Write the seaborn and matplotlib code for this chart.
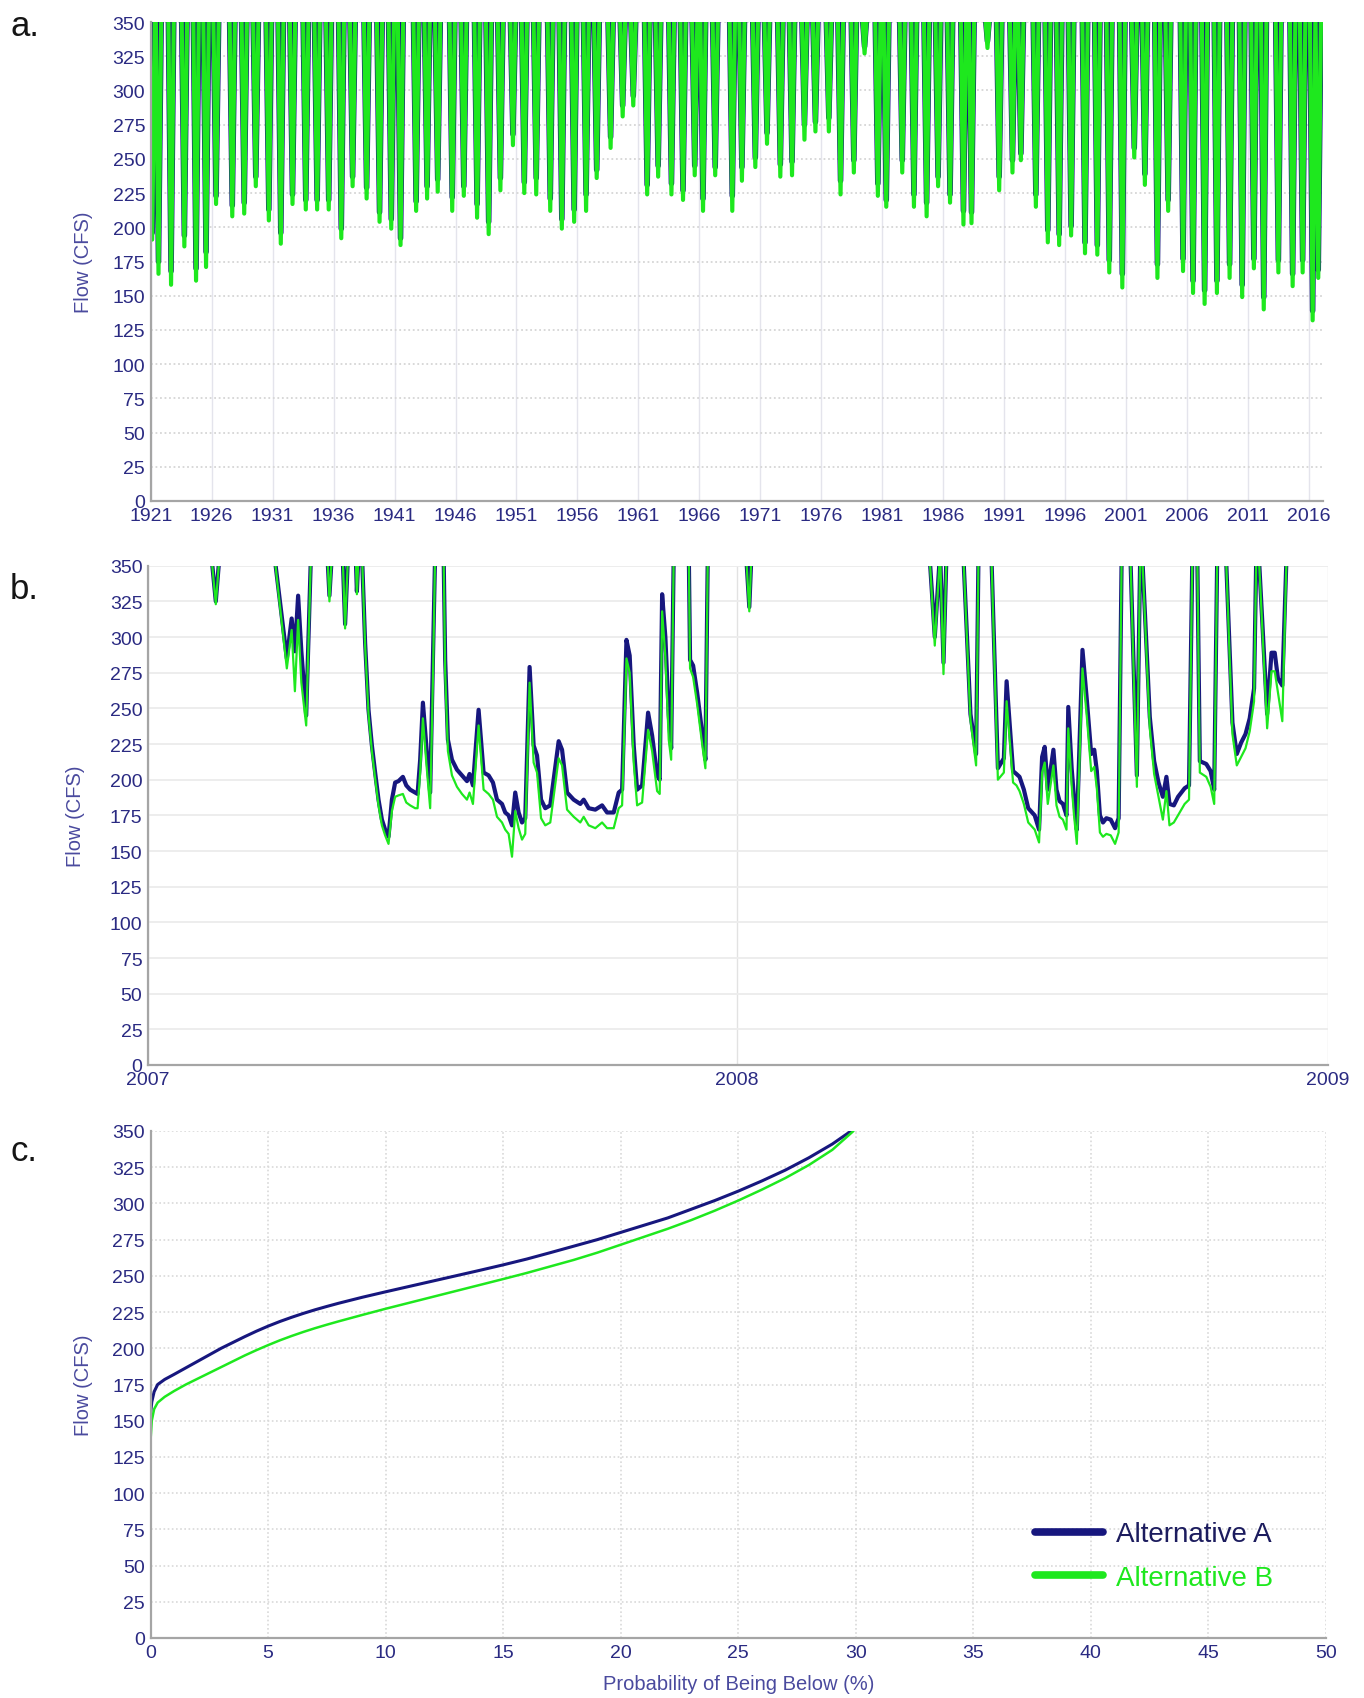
import matplotlib
matplotlib.use("Agg")
import numpy as np
import pandas as pd
import matplotlib.pyplot as plt
import matplotlib.dates as mdates
from matplotlib.ticker import MultipleLocator, FixedLocator, FormatStrFormatter
from matplotlib.lines import Line2D
import seaborn as sns

# ---------------- (a) 1921-2017 record: seasonal low-flow troughs ----------------
dip_year = [1921.12, 1921.64, 1922.67, 1923.76, 1924.72, 1925.54, 1926.36, 1927.69, 1928.67, 1929.62,
            1930.69, 1931.67, 1932.63, 1933.72, 1934.65, 1935.60, 1936.63, 1937.56, 1938.71, 1939.77,
            1940.73, 1941.49, 1942.77, 1943.67, 1944.54,
            1945.73, 1946.68, 1947.77, 1948.72, 1949.68, 1950.71, 1951.64, 1952.62, 1953.77, 1954.72,
            1955.73, 1956.71, 1957.58, 1958.72, 1959.71, 1960.58, 1961.72, 1962.62, 1963.71, 1964.66,
            1965.62, 1966.30, 1967.30, 1968.70,
            1969.49, 1970.59, 1971.55, 1972.64, 1973.60, 1974.62, 1975.52, 1976.62, 1977.58, 1978.67,
            1979.55, 1980.64, 1981.33, 1982.64, 1983.60, 1984.64, 1985.58, 1986.56, 1987.66, 1988.32,
            1989.63, 1990.59, 1991.68, 1992.37,
            1993.60, 1994.58, 1995.51, 1996.49, 1997.63, 1998.64, 1999.62, 2000.69, 2001.67, 2002.54,
            2003.57, 2004.45, 2005.67, 2006.49, 2007.44, 2008.45, 2009.49, 2010.52, 2011.48, 2012.29,
            2013.49, 2014.66, 2015.48, 2016.30, 2016.76]
dip_flow_a = [196, 175, 168, 194, 170, 182, 223, 216, 218, 237,
              213, 196, 224, 220, 220, 220, 199, 237, 229, 211,
              206, 192, 219, 230, 235,
              222, 230, 217, 204, 236, 268, 233, 236, 221, 206,
              213, 224, 242, 266, 289, 296, 231, 245, 232, 227,
              245, 221, 244, 223,
              244, 251, 269, 246, 248, 275, 277, 280, 234, 249,
              332, 232, 220, 249, 224, 218, 237, 224, 212, 211,
              336, 237, 249, 254,
              224, 198, 195, 201, 189, 187, 176, 166, 258, 239,
              173, 220, 177, 161, 154, 161, 173, 158, 177, 149,
              176, 166, 176, 139, 169]
dip_flow_b = [191, 166, 158, 186, 161, 171, 217, 208, 210, 230,
              205, 188, 217, 213, 213, 213, 192, 230, 221, 204,
              199, 187, 212, 221, 226,
              212, 223, 207, 195, 227, 260, 225, 224, 212, 199,
              204, 212, 236, 258, 281, 289, 224, 237, 224, 220,
              238, 212, 238, 212,
              234, 244, 261, 237, 238, 264, 270, 270, 224, 240,
              327, 223, 215, 240, 215, 208, 230, 218, 202, 203,
              331, 227, 240, 249,
              215, 189, 187, 194, 181, 180, 167, 156, 251, 231,
              163, 212, 168, 152, 144, 152, 163, 149, 170, 140,
              167, 157, 167, 132, 163]
DIP_SPAN = 0.46      # years spent below the plotted ceiling around each trough
HIGH_FLOW = 360      # wet-season flows, above the plotted range

# ---------------- (b) 2007-2008 daily detail (days since 2007-01-01) ----------------
detail_day = [0, 39, 42, 44.5, 78, 86, 89, 91, 93, 95, 98, 101,
              111, 112.4, 114, 120.5, 122.1, 124, 128.6, 129.4, 130.5,
              132.5, 134.5, 136.6, 138.7, 140.7, 142.8, 144.9, 146.9, 149.0, 151.1,
              153.1, 155.2, 157.9, 160.0, 162.4, 165.5, 167.0, 168.6, 170.3, 172.4,
              174.8, 176.5, 177.9, 183.1, 184.1, 185.8, 188.3, 191.4, 194.5, 197.6,
              199.2, 201.3, 204.8, 207.9, 211.0, 213.7, 216.2, 219.3, 221.3, 223.4,
              225.5, 227.5, 229.6, 231.7, 233.7, 236.4, 238.9, 241.0, 243.5, 246.1,
              249.2, 254.4, 256.5, 259.6, 263.7, 267.8, 269.9, 273.0, 277.1, 281.3,
              284.4, 288.5, 291.6, 293.7, 296.4, 298.4, 300.9, 303.0, 306.1, 309.8,
              312.3, 315.4, 317.0, 318.5, 320.5, 322.6, 324.1, 325.7,
              335.0, 335.8, 337.7, 340.2, 343.3, 345.3, 346.8,
              370.4, 372.5, 373.9, 484.0, 487.4, 490.7, 492.8, 494.7,
              505.0, 509.5, 513.0, 514.5, 522.4, 526.5, 530.2, 531.9, 535.9, 538.0,
              539.9, 542.6, 545.3, 549.3, 552.0, 553.9, 555.5, 557.4, 560.9, 562.8,
              564.7, 566.8, 569.0, 570.1, 572.2, 573.6, 575.4, 578.9, 581.6, 584.3,
              586.2, 587.8, 589.7, 591.6, 593.7, 596.4, 599.1, 601.3, 603.2,
              608.5, 612.6, 614.7, 615.8, 620.6, 623.3, 626.0, 628.7, 630.9, 632.8,
              635.5, 638.1, 642.2, 644.9, 647.0, 650.0, 651.6, 655.6, 658.3, 660.5,
              662.4, 667.7, 671.8, 674.5, 677.2, 679.9, 682.5, 685.2, 686.6,
              688.0, 693.3, 696.0, 698.0, 700.0, 702.7, 705.4, 731.0]
detail_flow_a = [360, 360, 325, 360, 360, 285, 313, 290, 329, 290, 245, 360,
                 360, 329, 360, 360, 309, 360, 360, 332, 360,
                 360, 296, 249, 224, 205, 186, 172, 165, 160, 186,
                 198, 199, 202, 196, 193, 191, 190, 214, 254, 224,
                 191, 284, 360, 360, 284, 228, 214, 207, 203, 199,
                 204, 196, 249, 205, 203, 198, 186, 183, 177, 175,
                 168, 191, 177, 170, 173, 279, 224, 217, 186, 180,
                 182, 227, 221, 191, 186, 183, 186, 180, 179, 182,
                 177, 177, 191, 193, 298, 287, 224, 193, 196, 247,
                 231, 203, 200, 330, 300, 245, 222, 360,
                 360, 284, 280, 261, 233, 214, 360,
                 360, 321, 360, 360, 300, 360, 282, 360,
                 360, 246, 218, 360, 360, 208, 215, 269, 206, 204,
                 202, 193, 180, 175, 165, 216, 223, 193, 221, 193,
                 185, 183, 175, 251, 208, 188, 165, 291, 256, 218,
                 221, 206, 175, 170, 173, 172, 166, 173, 360,
                 360, 203, 360, 360, 244, 213, 198, 188, 202, 183,
                 182, 188, 194, 196, 360, 360, 213, 211, 206, 193,
                 360, 360, 240, 218, 226, 232, 243, 264, 360,
                 360, 246, 289, 289, 271, 266, 360, 360]
detail_flow_b = [360, 360, 323, 360, 360, 278, 305, 262, 312, 268, 238, 360,
                 360, 325, 360, 360, 306, 360, 360, 330, 360,
                 360, 294, 246, 220, 201, 182, 168, 161, 155, 178,
                 188, 189, 190, 184, 182, 180, 180, 205, 243, 212,
                 180, 270, 360, 360, 275, 220, 203, 195, 190, 186,
                 191, 183, 238, 193, 190, 186, 174, 170, 165, 162,
                 146, 178, 166, 158, 162, 268, 212, 205, 173, 168,
                 170, 215, 210, 179, 174, 170, 174, 168, 166, 170,
                 166, 166, 180, 182, 285, 275, 212, 182, 184, 235,
                 220, 192, 190, 318, 286, 228, 214, 360,
                 360, 278, 272, 253, 225, 208, 360,
                 360, 318, 360, 360, 294, 360, 274, 360,
                 360, 242, 210, 360, 360, 200, 205, 255, 198, 196,
                 192, 183, 170, 165, 156, 205, 212, 183, 210, 182,
                 174, 172, 165, 236, 196, 176, 155, 278, 244, 206,
                 209, 194, 163, 160, 162, 161, 155, 163, 360,
                 360, 195, 360, 360, 236, 204, 188, 172, 192, 168,
                 170, 175, 183, 186, 360, 360, 205, 202, 195, 183,
                 360, 360, 232, 210, 216, 222, 234, 255, 360,
                 360, 236, 276, 276, 261, 241, 360, 360]

# ---------------- (c) flow vs. probability of being below ----------------
prob_a = [0, 0.05, 0.15, 0.3, 0.6, 1, 1.5, 2, 2.5, 3, 3.5, 4, 4.5, 5, 5.5, 6, 6.5, 7, 7.5, 8,
          9, 10, 11, 12, 13, 14, 15, 16, 17, 18, 19, 20, 21, 22, 23, 24, 25, 26, 27, 28, 29, 29.8]
flow_a = [155, 163, 170, 175, 178.5, 182, 186.5, 191, 195.5, 200, 204, 208, 211.8, 215.3, 218.5,
          221.4, 224.1, 226.6, 228.9, 231.1, 235.2, 239, 242.7, 246.4, 250.1, 253.8, 257.6, 261.6,
          266, 270.5, 275, 280, 285, 290, 296, 302, 308.5, 315.5, 323, 331.5, 341, 350]
prob_b = [0, 0.05, 0.15, 0.3, 0.6, 1, 1.5, 2, 2.5, 3, 3.5, 4, 4.5, 5, 5.5, 6, 6.5, 7, 7.5, 8,
          9, 10, 11, 12, 13, 14, 15, 16, 17, 18, 19, 20, 21, 22, 23, 24, 25, 26, 27, 28, 29, 29.9]
flow_b = [137, 150, 158, 162.5, 166.5, 170.5, 175, 179, 183, 187, 191, 195, 198.7, 202.2, 205.5,
          208.5, 211.3, 213.9, 216.3, 218.6, 223, 227.3, 231.4, 235.5, 239.6, 243.7, 247.8, 252,
          256.5, 261, 266, 271.5, 277, 282.5, 288.5, 295, 302, 309.5, 317.5, 326.5, 337, 350]

# ---------------- styling ----------------
NAVY = "#17177e"
GREEN = "#1ee81e"
TICK_TXT = "#2a2a82"
LABEL_TXT = "#4a4a9e"
AXIS_GRAY = "#a5a5a5"

sns.set_theme(style="white")
plt.rcParams["font.family"] = ["Liberation Sans", "DejaVu Sans"]

W, H = 1364, 1699
fig = plt.figure(figsize=(W / 100, H / 100), dpi=100)
fig.patch.set_facecolor("white")


def frac(left, top, right, bottom):
    return [left / W, 1 - bottom / H, (right - left) / W, (bottom - top) / H]


ax_a = fig.add_axes(frac(150.7, 23, 1323, 502))
ax_b = fig.add_axes(frac(148, 566.7, 1328, 1066))
ax_c = fig.add_axes(frac(150.6, 1132, 1326, 1639))


def base_style(ax, ypad=16):
    ax.set_facecolor("white")
    ax.set_ylim(0, 350)
    ax.yaxis.set_major_locator(MultipleLocator(25))
    ax.yaxis.set_minor_locator(MultipleLocator(5))
    for s in ("top", "right"):
        ax.spines[s].set_visible(False)
    for s in ("left", "bottom"):
        ax.spines[s].set_color(AXIS_GRAY)
        ax.spines[s].set_linewidth(1.6)
    ax.tick_params(axis="both", which="major", color=AXIS_GRAY, labelcolor=TICK_TXT,
                   labelsize=14, length=4, width=1.0, direction="inout", pad=2)
    ax.tick_params(axis="both", which="minor", color=AXIS_GRAY, length=3, width=0.9,
                   direction="inout")
    ax.set_ylabel("Flow (CFS)", color=LABEL_TXT, fontsize=14.5, labelpad=ypad)
    ax.set_axisbelow(True)


# ---- panel a ----
t_a = [1920.5]
fa = [HIGH_FLOW]
fb = [HIGH_FLOW]
for yr, a, b in zip(dip_year, dip_flow_a, dip_flow_b):
    t_a += [yr - DIP_SPAN / 2, yr, yr + DIP_SPAN / 2]
    fa += [HIGH_FLOW, a, HIGH_FLOW]
    fb += [HIGH_FLOW, b, HIGH_FLOW]
t_a.append(2017.5)
fa.append(HIGH_FLOW)
fb.append(HIGH_FLOW)
df_a = pd.DataFrame({"year": t_a, "alt_a": fa, "alt_b": fb})

base_style(ax_a, ypad=14)
ax_a.grid(axis="y", which="major", color="#d6d6d6", linestyle=(0, (1, 1.5)), linewidth=1.3)
ax_a.grid(axis="x", which="major", color="#e4e4ec", linestyle="-", linewidth=1.0)
sns.lineplot(data=df_a, x="year", y="alt_a", ax=ax_a, color=NAVY, linewidth=4.0,
             estimator=None, sort=False)
sns.lineplot(data=df_a, x="year", y="alt_b", ax=ax_a, color=GREEN, linewidth=3.0,
             estimator=None, sort=False)
ax_a.set_xlim(1921, 2017.15)
ax_a.xaxis.set_major_locator(FixedLocator(list(range(1921, 2017, 5))))
ax_a.xaxis.set_minor_locator(MultipleLocator(1))
ax_a.xaxis.set_major_formatter(FormatStrFormatter("%d"))
ax_a.set_xlabel("")
ax_a.set_ylim(0, 350)

# ---- panel b ----
dates_b = pd.Timestamp("2007-01-01") + pd.to_timedelta(detail_day, unit="D")
df_b = pd.DataFrame({"date": dates_b, "alt_a": detail_flow_a, "alt_b": detail_flow_b})

base_style(ax_b, ypad=18)
ax_b.grid(axis="y", which="major", color="#ececec", linestyle="-", linewidth=1.3)
ax_b.grid(axis="x", which="major", color="#e2e2e2", linestyle="-", linewidth=1.0)
sns.lineplot(data=df_b, x="date", y="alt_a", ax=ax_b, color=NAVY, linewidth=3.0,
             estimator=None, sort=False)
sns.lineplot(data=df_b, x="date", y="alt_b", ax=ax_b, color=GREEN, linewidth=1.6,
             estimator=None, sort=False)
ax_b.set_xlim(pd.Timestamp("2007-01-01"), pd.Timestamp("2009-01-01"))
ax_b.xaxis.set_major_locator(mdates.YearLocator())
ax_b.xaxis.set_minor_locator(mdates.MonthLocator())
ax_b.xaxis.set_major_formatter(mdates.DateFormatter("%Y"))
ax_b.set_xlabel("")
ax_b.set_ylim(0, 350)

# ---- panel c ----
df_ca = pd.DataFrame({"prob": prob_a, "flow": flow_a})
df_cb = pd.DataFrame({"prob": prob_b, "flow": flow_b})

base_style(ax_c, ypad=14)
ax_c.grid(axis="both", which="major", color="#d9d9d9", linestyle=(0, (1, 1.5)), linewidth=1.2)
sns.lineplot(data=df_ca, x="prob", y="flow", ax=ax_c, color=NAVY, linewidth=2.2,
             estimator=None, sort=False)
sns.lineplot(data=df_cb, x="prob", y="flow", ax=ax_c, color=GREEN, linewidth=1.8,
             estimator=None, sort=False)
ax_c.set_xlim(0, 50)
ax_c.set_ylim(0, 350)
ax_c.xaxis.set_major_locator(MultipleLocator(5))
ax_c.xaxis.set_minor_locator(MultipleLocator(1))
ax_c.set_xlabel("Probability of Being Below (%)", color=LABEL_TXT, fontsize=14.5, labelpad=10)

handles = [Line2D([], [], color=NAVY, linewidth=5.5), Line2D([], [], color=GREEN, linewidth=5.5)]
leg = ax_c.legend(handles, ["Alternative A", "Alternative B"], loc="upper left",
                  bbox_to_anchor=(0.7524, 0.2299), frameon=False, fontsize=20,
                  handlelength=2.45, handletextpad=0.45, labelspacing=0.63,
                  borderpad=0, borderaxespad=0)
leg.get_texts()[0].set_color("#1c1c5e")
leg.get_texts()[1].set_color(GREEN)

# ---- panel letters ----
for letter, base in (("a.", 36), ("b.", 599), ("c.", 1161)):
    fig.text(10 / W, 1 - base / H, letter, fontsize=25, color="#151515", va="baseline", ha="left")

fig.savefig("out.png", dpi=100, facecolor="white")
